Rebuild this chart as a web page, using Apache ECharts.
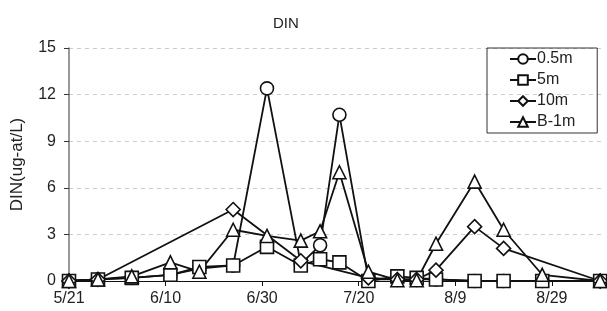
<!DOCTYPE html>
<html>
<head>
<meta charset="utf-8">
<script src="https://cdn.jsdelivr.net/npm/echarts@6/dist/echarts.min.js"></script>
<style>
  html, body { margin: 0; padding: 0; background: #fff; }
  #container { width: 607px; height: 311px; }
</style>
</head>
<body>
<div id="container"></div>
<script>
// sampling dates
var dates = ['5/21', '5/27', '6/3', '6/11', '6/17', '6/24', '7/1', '7/8', '7/12', '7/16',
             '7/22', '7/28', '8/1', '8/5', '8/13', '8/19', '8/27', '9/8'];
var din05 = [0, 0.1, 0.2, 0.4, 0.8, 1.0, 12.4, 1.1, 2.3, 10.7, 0.1, 0.1, 0.1, 0.1, 0, 0, 0, 0];
var din5 = [0, 0.1, 0.2, 0.4, 0.9, 1.0, 2.2, 1.0, 1.4, 1.2, 0, 0.3, 0.2, 0.1, 0, 0, 0, 0];
var din10 = [0, 0.1, null, null, null, 4.6, null, 1.3, null, null, 0.2, 0.1, 0.1, 0.7, 3.5, 2.1, null, 0];
var dinB1 = [0, 0.1, 0.3, 1.2, 0.6, 3.3, 2.9, 2.6, 3.2, 7.0, 0.6, 0.05, 0.05, 2.4, 6.4, 3.3, 0.4, 0];
var xTicks = ['5/21', '6/10', '6/30', '7/20', '8/9', '8/29'];

window.onload = function () {
    var dom = document.getElementById('container');
    var myChart = echarts.init(dom);
    var base = Date.UTC(2020, 4, 21);
    var DAY = 86400000;

    function dayOf(s) {
        var p = s.split('/');
        return Math.round((Date.UTC(2020, +p[0] - 1, +p[1]) - base) / DAY);
    }
    function pairs(vals) {
        var out = [];
        for (var i = 0; i < dates.length; i++) {
            out.push([dayOf(dates[i]), vals[i]]);
        }
        return out;
    }
    var tickDays = xTicks.map(dayOf);

    function makeSeries(name, vals, symbol) {
        return {
            name: name,
            type: 'line',
            data: pairs(vals),
            connectNulls: true,
            symbol: symbol,
            symbolSize: symbol === 'diamond' ? 14 : 13,
            showAllSymbol: true,
            lineStyle: { color: '#111', width: 1.8 },
            itemStyle: { color: '#fff', borderColor: '#111', borderWidth: 1.6 },
            emphasis: { disabled: true },
            animation: false
        };
    }

    var option = {
        backgroundColor: '#fff',
        textStyle: { fontFamily: 'Liberation Sans, Arial, sans-serif' },
        title: {
            text: 'DIN',
            left: 268,
            top: 11,
            textStyle: { fontSize: 15, fontWeight: 'normal', color: '#222' }
        },
        legend: {
            orient: 'vertical',
            left: 487,
            top: 48,
            padding: [3, 22, 3, 22],
            itemGap: 5,
            itemWidth: 26,
            itemHeight: 12,
            borderColor: '#333',
            borderWidth: 1,
            textStyle: { fontSize: 16, color: '#222', padding: [0, 0, 0, -4] },
            data: ['0.5m', '5m', '10m', 'B-1m']
        },
        grid: { left: 69, right: 2, top: 48, bottom: 30, containLabel: false },
        xAxis: {
            type: 'value',
            min: 0,
            max: 111,
            interval: 20,
            axisLine: { show: true, onZero: false, lineStyle: { color: '#111', width: 1 } },
            axisTick: {
                show: true,
                length: 5,
                lineStyle: { color: '#111' },
                customValues: tickDays
            },
            axisLabel: {
                fontSize: 16,
                color: '#222',
                margin: 10,
                customValues: tickDays,
                formatter: function (v) {
                    var d = new Date(base + v * DAY);
                    return (d.getUTCMonth() + 1) + '/' + d.getUTCDate();
                }
            },
            splitLine: { show: false }
        },
        yAxis: {
            type: 'value',
            min: 0,
            max: 15,
            interval: 3,
            name: 'DIN(ug-at/L)',
            nameLocation: 'middle',
            nameGap: 43,
            nameTextStyle: { fontSize: 17, color: '#222' },
            axisLine: { show: true, lineStyle: { color: '#777', width: 1.5 } },
            axisTick: { show: true, length: 5, lineStyle: { color: '#333' } },
            axisLabel: { fontSize: 16, color: '#222', margin: 13 },
            splitLine: { show: true, lineStyle: { color: '#ccc', type: [4, 4] } }
        },
        series: [
            makeSeries('0.5m', din05, 'circle'),
            makeSeries('5m', din5, 'rect'),
            makeSeries('10m', din10, 'diamond'),
            makeSeries('B-1m', dinB1, 'triangle')
        ]
    };
    myChart.setOption(option, true);
};
</script>
</body>
</html>
